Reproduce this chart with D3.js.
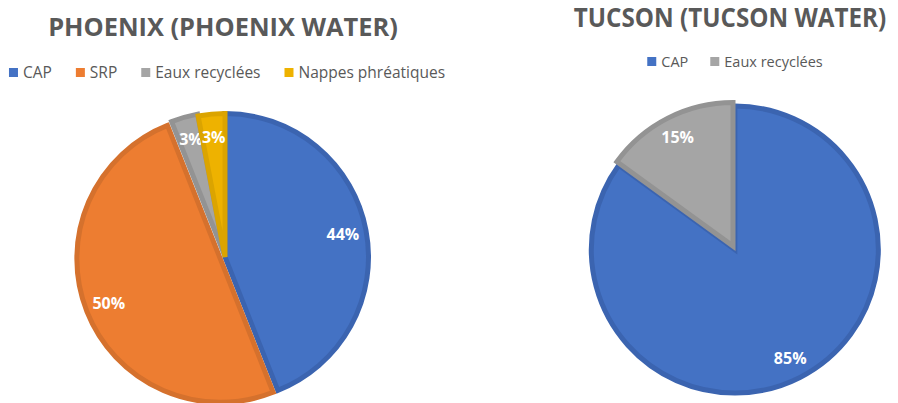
<!DOCTYPE html>
<html>
<head>
<meta charset="utf-8">
<script src="https://cdn.jsdelivr.net/npm/d3@7"></script>
<style>
body { margin:0; background:#fff; }
svg { display:block; font-family:"Open Sans", sans-serif; }
</style>
</head>
<body>
<div id="chart"></div>
<script>
// data
var phoenixTitle = "PHOENIX (PHOENIX WATER)";
var phoenixCategories = ["CAP", "SRP", "Eaux recyclées", "Nappes phréatiques"];
var phoenixValues = [44, 50, 3, 3];

var tucsonTitle = "TUCSON (TUCSON WATER)";
var tucsonCategories = ["CAP", "Eaux recyclées"];
var tucsonValues = [85, 15];

var fills = {"CAP":"#4472c4", "SRP":"#ed7d31", "Eaux recyclées":"#a5a5a5", "Nappes phréatiques":"#eeb200"};
var borders = {"CAP":"#3b64b0", "SRP":"#d5712d", "Eaux recyclées":"#939393", "Nappes phréatiques":"#dba400"};

var width = 898, height = 403;
var svg = d3.select('#chart').append('svg')
    .attr('width', width)
    .attr('height', height);

function drawPie(opt){
    var g = svg.append('g');

    g.append('text')
	.attr('transform', 'translate(' + opt.titleX + ',' + opt.titleY + ') scale(1,' + opt.titleStretch + ')')
	.attr('text-anchor', 'middle')
	.style('font-size', opt.titleSize + 'px')
	.style('font-weight', 'bold')
	.style('fill', '#595959')
	.text(opt.title);

    // legend, centred on the pie
    var leg = g.append('g');
    var items = leg.selectAll('g')
	.data(opt.categories)
	.enter()
	.append('g');
    items.append('rect')
	.attr('width', 9)
	.attr('height', 9)
	.attr('y', -10)
	.style('fill', function(d){ return fills[d]; });
    items.append('text')
	.attr('x', 14)
	.style('font-size', opt.legendSize + 'px')
	.style('fill', '#595959')
	.text(function(d){ return d; });
    var x = 0;
    items.each(function(){
	var w = d3.select(this).select('text').node().getComputedTextLength();
	d3.select(this).attr('transform', 'translate(' + x + ',0)');
	x += 14 + w + opt.legendGap;
    });
    x -= opt.legendGap;
    leg.attr('transform', 'translate(' + (opt.legendCx - x/2) + ',' + opt.legendY + ')');

    var pie = d3.pie().sort(null).value(function(d){ return d.value; });
    var arcs = pie(opt.categories.map(function(c, i){
	return {name:c, value:opt.values[i], explode:opt.explode[i]};
    }));
    var arc = d3.arc().innerRadius(0).outerRadius(opt.r - 2.5);
    var labelArc = d3.arc().innerRadius(opt.labelR).outerRadius(opt.labelR);
    var total = d3.sum(opt.values);

    var slices = g.append('g')
	.attr('transform', 'translate(' + opt.cx + ',' + opt.cy + ')')
	.selectAll('g')
	.data(arcs)
	.enter()
	.append('g')
	.attr('transform', function(d){
	    var a = (d.startAngle + d.endAngle) / 2;
	    var e = d.data.explode;
	    return 'translate(' + (Math.sin(a)*e) + ',' + (-Math.cos(a)*e) + ')';
	});

    slices.append('path')
	.attr('d', arc)
	.style('fill', function(d){ return fills[d.data.name]; })
	.style('stroke', function(d){ return borders[d.data.name]; })
	.style('stroke-width', 5)
	.style('stroke-linejoin', 'miter');

    slices.append('text')
	.attr('transform', function(d){ return 'translate(' + labelArc.centroid(d) + ')'; })
	.attr('text-anchor', 'middle')
	.attr('dy', '0.35em')
	.style('font-size', '16px')
	.style('font-weight', 'bold')
	.style('fill', '#fff')
	.text(function(d){ return Math.round(d.data.value / total * 100) + '%'; });
}

drawPie({
    title: phoenixTitle, titleX: 223, titleY: 36, titleSize: 25.4, titleStretch: 1,
    categories: phoenixCategories, values: phoenixValues,
    explode: [0, 5, 2, 0],
    cx: 225, cy: 257, r: 146, labelR: 120,
    legendCx: 227, legendY: 78, legendGap: 24, legendSize: 15.5
});

drawPie({
    title: tucsonTitle, titleX: 730, titleY: 27, titleSize: 24.2, titleStretch: 1.1,
    categories: tucsonCategories, values: tucsonValues,
    explode: [4, 0],
    cx: 733, cy: 246, r: 146, labelR: 122,
    legendCx: 735, legendY: 67, legendGap: 22, legendSize: 14.5
});
</script>
</body>
</html>
